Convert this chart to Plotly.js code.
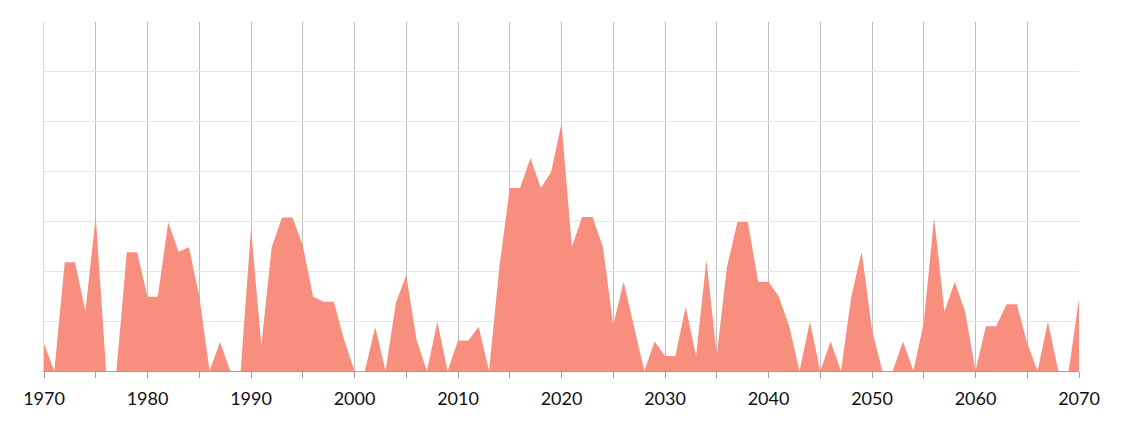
<!DOCTYPE html>
<html>
<head>
<meta charset="utf-8">
<script src="https://cdn.plot.ly/plotly-3.0.1.min.js"></script>
<style>html,body{margin:0;padding:0;background:#fff;}#chart{width:1124px;height:423px;}</style>
</head>
<body>
<div id="chart"></div>
<script>
const years = [];
for (let y = 1970; y <= 2070; y++) years.push(y);

const values = [
  0.54, 0, 2.18, 2.18, 1.2, 3.1, 0, 0, 2.38, 2.38,
  1.49, 1.49, 2.98, 2.39, 2.48, 1.5, 0, 0.58, 0, 0,
  2.86, 0.51, 2.48, 3.08, 3.08, 2.52, 1.49, 1.39, 1.39, 0.62,
  0, 0, 0.89, 0, 1.37, 1.92, 0.62, 0, 0.99, 0,
  0.61, 0.61, 0.89, 0, 2.09, 3.67, 3.67, 4.27, 3.67, 3.99,
  4.97, 2.49, 3.09, 3.09, 2.49, 0.92, 1.79, 0.9, 0, 0.59,
  0.3, 0.3, 1.29, 0.3, 2.23, 0.32, 2.1, 2.99, 2.99, 1.79,
  1.79, 1.49, 0.9, 0, 0.99, 0, 0.59, 0, 1.49, 2.39,
  0.82, 0, 0, 0.59, 0, 0.97, 3.07, 1.19, 1.79, 1.19,
  0, 0.9, 0.9, 1.34, 1.34, 0.55, 0, 0.99, 0, 0,
  1.45
];

const tickVals = [1970,1975,1980,1985,1990,1995,2000,2005,2010,2015,2020,2025,2030,2035,2040,2045,2050,2055,2060,2065,2070];
const tickText = ['1970','','1980','','1990','','2000','','2010','','2020','','2030','','2040','','2050','','2060','','2070'];

const trace = {
  x: years,
  y: values,
  type: 'scatter',
  mode: 'lines',
  fill: 'tozeroy',
  fillcolor: 'rgb(247,142,126)',
  line: {width: 0, color: 'rgb(247,142,126)'},
  hoverinfo: 'x+y'
};

const layout = {
  width: 1124,
  height: 423,
  margin: {l: 44, r: 45, t: 22, b: 52},
  paper_bgcolor: '#ffffff',
  plot_bgcolor: '#ffffff',
  showlegend: false,
  font: {family: 'Lato, "Open Sans", sans-serif', size: 18, color: '#111111'},
  xaxis: {
    range: [1970, 2070],
    tickmode: 'array',
    tickvals: tickVals,
    ticktext: tickText,
    showgrid: true,
    gridcolor: '#bfbfbf',
    gridwidth: 1,
    showline: true,
    linecolor: '#a0a0a0',
    linewidth: 1,
    ticks: 'outside',
    ticklen: 6,
    tickcolor: '#a0a0a0',
    ticklabelstandoff: 5,
    zeroline: false,
    fixedrange: true
  },
  yaxis: {
    range: [0, 7],
    dtick: 1,
    tick0: 0,
    showticklabels: false,
    showgrid: true,
    gridcolor: '#e6e6e6',
    gridwidth: 1,
    showline: true,
    linecolor: '#dcdcdc',
    linewidth: 1,
    zeroline: false,
    ticks: '',
    fixedrange: true
  }
};

Plotly.newPlot('chart', [trace], layout, {displayModeBar: false, staticPlot: true});
</script>
</body>
</html>
